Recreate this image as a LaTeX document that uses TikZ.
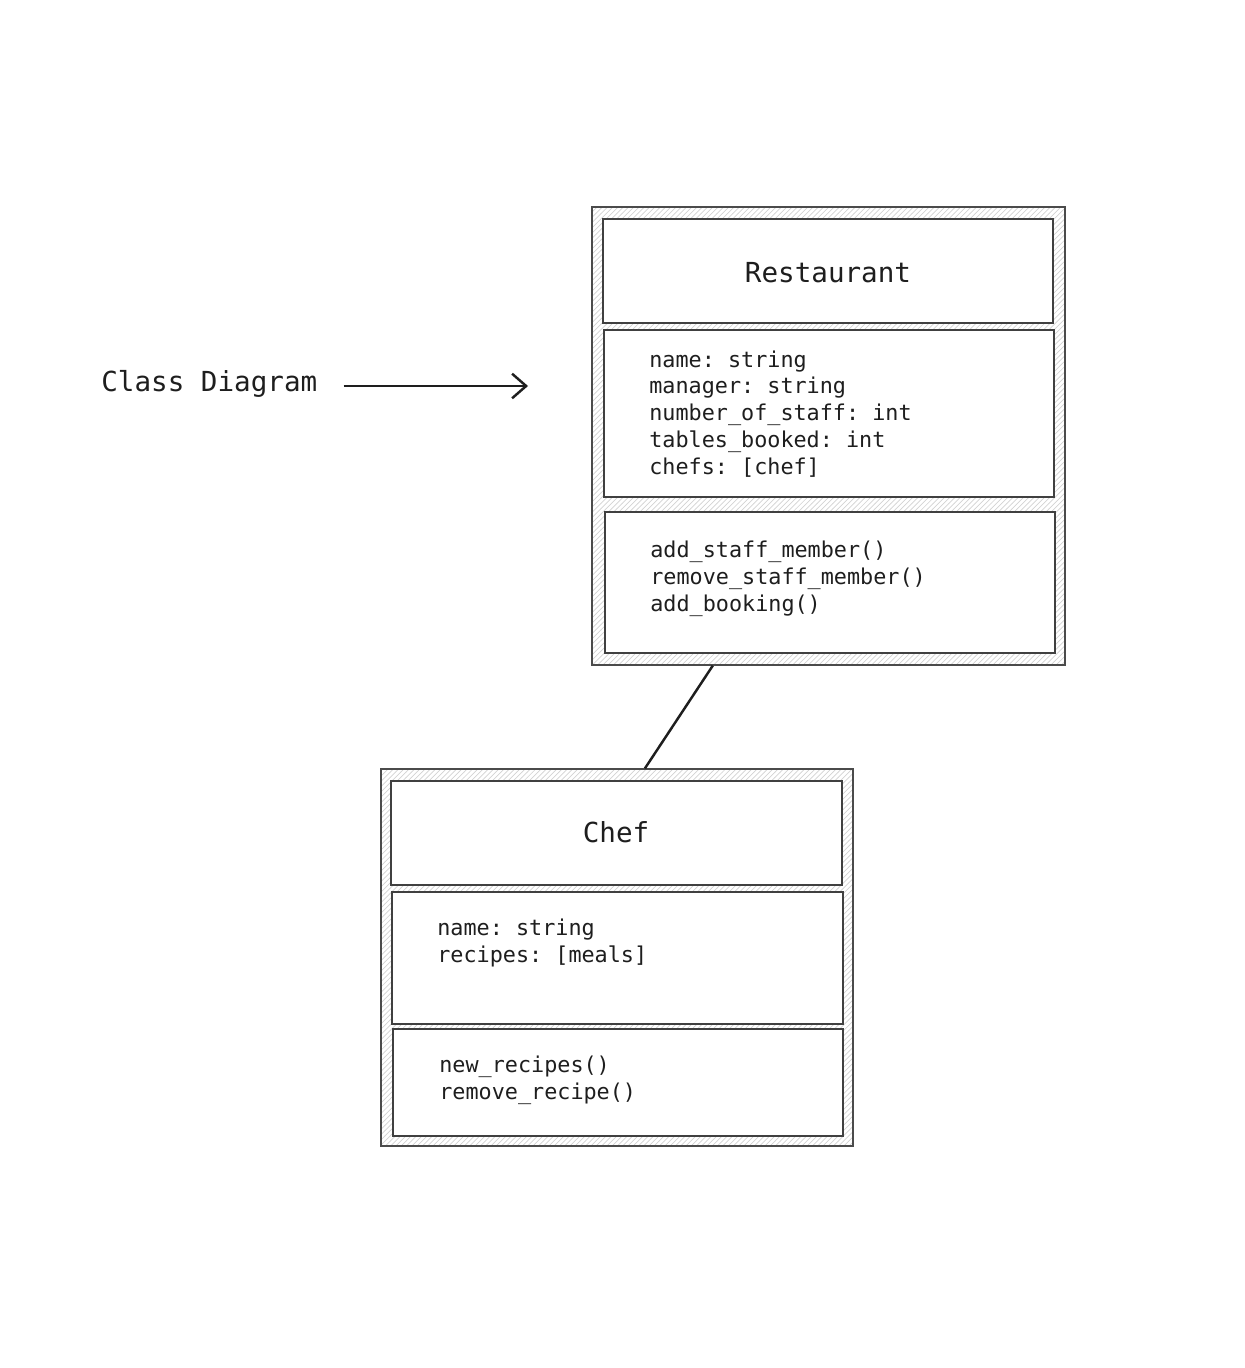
\documentclass[tikz,border=0pt]{standalone}
\usepackage{fontspec}
\setmonofont{DejaVu Sans Mono}
\usetikzlibrary{arrows.meta}
\usetikzlibrary{positioning}
\usetikzlibrary{fit}
\usetikzlibrary{calc}
\usetikzlibrary{patterns}
\definecolor{ink}{HTML}{1E1E1E}
\tikzset{outerbox/.style = {draw = ink!80, line width = 0.7pt, inner sep = 0,
                            pattern = north east lines, pattern color = gray!35}}
\tikzset{innerbox/.style = {draw = ink!85, line width = 0.7pt, inner sep = 0, fill = white}}
\tikzset{title/.style = {text = ink, inner sep = 0, font = \ttfamily\fontsize{15.7}{19}\selectfont}}
\tikzset{members/.style = {text = ink, inner sep = 0, anchor = west, align = left,
                           font = \ttfamily\fontsize{12.4}{15.3}\selectfont}}
\tikzset{link/.style = {draw = ink, line width = 1.4pt}}

\begin{document}
\begin{tikzpicture}[x=0.02cm, y=-0.02cm]
    \useasboundingbox (0, 0) rectangle (1244, 1368);
    % restaurant class
    \node [outerbox, fit = {(592, 207) (1065, 665)}] (rest) {};
    \node [innerbox, fit = {(603, 219) (1053, 323)}] (resttitle) {};
    \node [innerbox, fit = {(604, 330) (1054, 497)}] (restattr) {};
    \node [innerbox, fit = {(605, 512) (1055, 653)}] (restmeth) {};
    \node [title] (restname) at (828, 273) {Restaurant};
    \node [members] (restattrtext) at (649, 414) {name: string\\manager: string\\number\_of\_staff: int\\tables\_booked: int\\chefs: [chef]};
    \node [members] (restmethtext) at (650, 579) {add\_staff\_member()\\remove\_staff\_member()\\add\_booking()};
    % chef class
    \node [outerbox, fit = {(381, 769) (853, 1146)}] (chef) {};
    \node [innerbox, fit = {(391, 781) (842, 885)}] (cheftitle) {};
    \node [innerbox, fit = {(392, 892) (843, 1024)}] (chefattr) {};
    \node [innerbox, fit = {(393, 1029) (843, 1136)}] (chefmeth) {};
    \node [title] (chefname) at (616, 832) {Chef};
    \node [members] (chefattrtext) at (437, 943) {name: string\\recipes: [meals]};
    \node [members] (chefmethtext) at (439, 1080) {new\_recipes()\\remove\_recipe()};
    % label and arrow
    \node [title, anchor = west] (label) at (101, 384) {Class Diagram};
    \coordinate (arrowend) at (528, 386);
    \draw [link, -{Straight Barb[length = 8pt, width = 14pt]}] ($(label.east) + (26, 2)$) -- (arrowend);
    % association
    \draw [link] ($(rest.south west)!0.256!(rest.south east)$) -- ($(chef.north west)!0.559!(chef.north east)$);
\end{tikzpicture}
\end{document}
